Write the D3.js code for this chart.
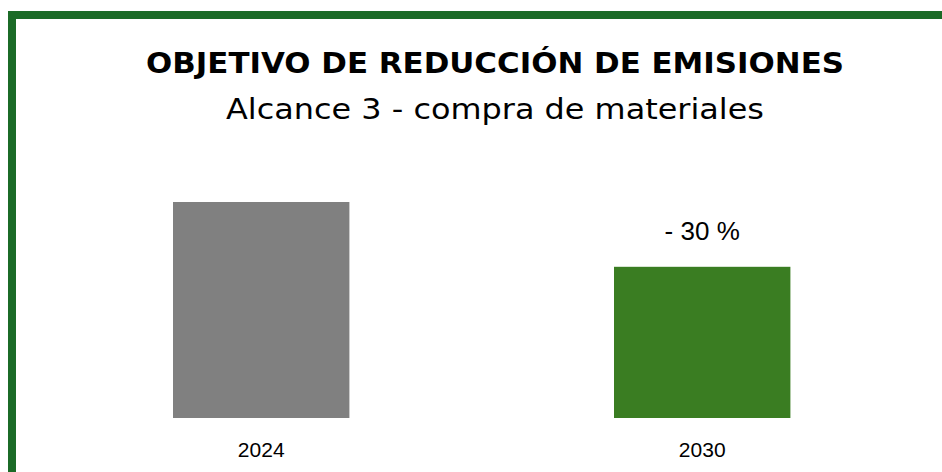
<!DOCTYPE html>
<html>
<head>
<meta charset="utf-8">
<script src="https://cdn.jsdelivr.net/npm/d3@7"></script>
<style>
  body { margin: 0; background: #fff; }
  svg { display: block; }
</style>
</head>
<body>
<div id="chart"></div>
<script>
const years = ['2024', '2030']
const emissions = [100, 70]
const barLabels = ['', '- 30 %']
const barColors = ['#808080', '#3a7d22']

const width = 942
const height = 472

const svg = d3.select('#chart')
    .append('svg')
    .attr('width', width)
    .attr('height', height)

// green frame (top and left edge only visible)
svg.append('rect')
    .attr('x', 8).attr('y', 11)
    .attr('width', width).attr('height', 8)
    .attr('fill', '#1b6b27')
svg.append('rect')
    .attr('x', 8).attr('y', 11)
    .attr('width', 8).attr('height', height)
    .attr('fill', '#1b6b27')

svg.append('text')
    .attr('x', 495).attr('y', 73)
    .attr('text-anchor', 'middle')
    .attr('textLength', 698)
    .attr('lengthAdjust', 'spacingAndGlyphs')
    .style('font-family', '"DejaVu Sans", sans-serif')
    .style('font-weight', 700)
    .style('font-size', '28px')
    .attr('fill', '#000')
    .text('OBJETIVO DE REDUCCIÓN DE EMISIONES')

svg.append('text')
    .attr('x', 495).attr('y', 119)
    .attr('text-anchor', 'middle')
    .attr('textLength', 538)
    .attr('lengthAdjust', 'spacingAndGlyphs')
    .style('font-family', '"DejaVu Sans", sans-serif')
    .style('font-size', '29px')
    .attr('fill', '#000')
    .text('Alcance 3 - compra de materiales')

const xScale = d3.scaleBand()
    .domain(years)
    .range([40.7, 922.7])
    .paddingInner(0.6)
    .paddingOuter(0.3)

const yScale = d3.scaleLinear()
    .domain([0, 100])
    .range([418, 202])

svg.selectAll('rect.bar')
    .data(years)
    .enter()
    .append('rect')
    .attr('class', 'bar')
    .attr('x', d => xScale(d))
    .attr('y', (d, i) => yScale(emissions[i]))
    .attr('width', xScale.bandwidth())
    .attr('height', (d, i) => yScale(0) - yScale(emissions[i]))
    .attr('fill', (d, i) => barColors[i])

svg.selectAll('text.val')
    .data(years)
    .enter()
    .append('text')
    .attr('class', 'val')
    .attr('x', d => xScale(d) + xScale.bandwidth() / 2)
    .attr('y', (d, i) => yScale(emissions[i]) - 27)
    .attr('text-anchor', 'middle')
    .style('font-family', '"Liberation Sans", Arial, sans-serif')
    .style('font-size', '26px')
    .attr('fill', '#000')
    .text((d, i) => barLabels[i])

const xAxis = d3.axisBottom(xScale).tickSize(0).tickPadding(24)

svg.append('g')
    .attr('transform', `translate(0,${yScale(0)})`)
    .call(xAxis)
    .call(g => g.select('.domain').remove())
    .selectAll('text')
    .style('font-family', '"Liberation Sans", Arial, sans-serif')
    .style('font-size', '21px')
    .attr('fill', '#000')
</script>
</body>
</html>
